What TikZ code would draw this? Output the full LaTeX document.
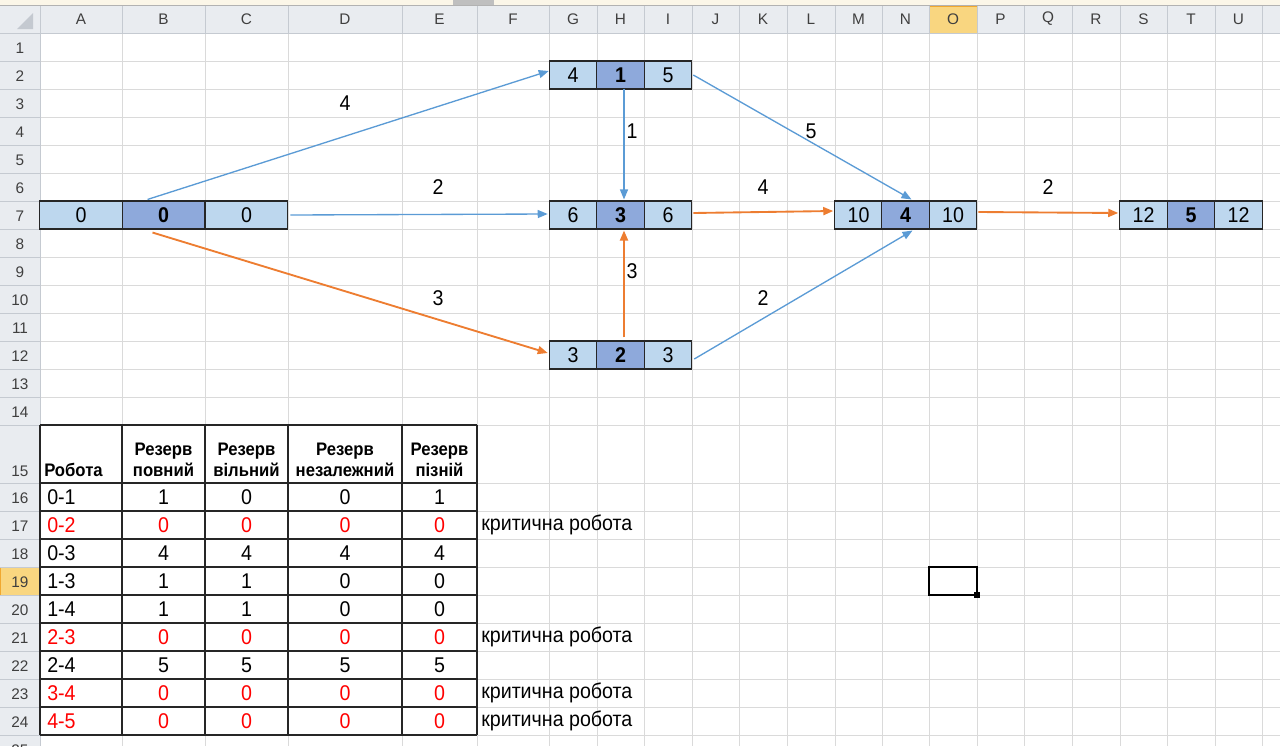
\documentclass[tikz,border=0pt]{standalone}
\usepackage{fontspec}
\setmainfont{Liberation Sans}
\newfontfamily\cellfam[FakeStretch=0.92]{Liberation Sans}
\usetikzlibrary{arrows.meta,calc}
\definecolor{side}{HTML}{BDD7EE}
\definecolor{mid}{HTML}{8EA9DB}
\definecolor{ablue}{HTML}{5B9BD5}
\definecolor{aorange}{HTML}{ED7D31}
\definecolor{gridc}{HTML}{DADADA}
\definecolor{hdr}{HTML}{E9ECF0}
\definecolor{hdrline}{HTML}{C5CAD1}
\definecolor{hdrtext}{HTML}{3F3F3F}
\definecolor{selhdr}{HTML}{F9D680}
\definecolor{selline}{HTML}{F0A830}
\definecolor{crit}{HTML}{FF0000}
\definecolor{strip}{HTML}{FBF6E8}
\definecolor{corner}{HTML}{C4C9D0}
\newcommand\cellfont{\cellfam\fontsize{16}{19}\selectfont}
\newcommand\hdrfont{\fontsize{11.5}{13}\selectfont}
\newcommand\thfont{\cellfam\fontsize{13.6}{15.5}\selectfont\bfseries}
\tikzset{
  sidecell/.style={draw=black!85, line width=0.8pt, fill=side, inner sep=0pt,
    minimum height=21pt, font=\cellfont},
  midcell/.style={sidecell, fill=mid, font=\cellfont\bfseries},
  narrow/.style={minimum width=35.6pt},
  wide/.style={minimum width=62pt},
  barrow/.style={draw=ablue, line width=1pt, -{Triangle[length=7.5pt,width=6pt]}},
  oarrow/.style={draw=aorange, line width=1.4pt, -{Triangle[length=7.5pt,width=6pt]}},
  elabel/.style={font=\cellfont, inner sep=1pt},
  tcell/.style={font=\cellfont, inner sep=0pt},
  hlabel/.style={font=\hdrfont, text=hdrtext, inner sep=0pt},
}
\begin{document}
\begin{tikzpicture}[x=0.75pt,y=-0.75pt]
\useasboundingbox (0,0) rectangle (1280,746);
\begin{scope}
\clip (0,0) rectangle (1280,746);
% top strip
\fill[strip] (0,0) rectangle (1280,5);
\fill[black!25] (453,0) rectangle (494,5);
\draw[black!30] (0,5.5) -- (1280,5.5);
% grid
\foreach \x in {122,205,288,402,477,549,597,644,692,739,787,835,882,929,977,1024,1072,1120,1167,1215,1262}
  \draw[gridc, line width=0.75pt] (\x,33) -- (\x,746);
\foreach \y in {61,89,117,145,173,201,229,257,285,313,341,369,397,425,483,511,539,567,595,623,651,679,707,735}
  \draw[gridc, line width=0.75pt] (40,\y) -- (1280,\y);
% headers
\fill[hdr] (0,6) rectangle (1280,33);
\fill[hdr] (0,33) rectangle (40,746);
\fill[selhdr] (929,6) rectangle (977,33);
\draw[selline] (929,6) rectangle (977,33);
\fill[selhdr] (0,567) rectangle (40,595);
\draw[selline] (0,567) rectangle (40,595);
\foreach \x in {40,122,205,288,402,477,549,597,644,692,739,787,835,882,929,977,1024,1072,1120,1167,1215,1262}
  \draw[hdrline] (\x,6) -- (\x,33);
\foreach \y in {61,89,117,145,173,201,229,257,285,313,341,369,397,425,483,511,539,567,595,623,651,679,707,735}
  \draw[hdrline] (0,\y) -- (40,\y);
\draw[hdrline] (0,33) -- (1280,33);
\draw[hdrline] (40,6) -- (40,746);
\fill[corner] (33,13) -- (33,29) -- (17,29) -- cycle;
\foreach \c/\x in {A/81,B/163.5,C/246.5,D/345,E/439.5,F/513,G/573,H/620.5,I/668,J/715.5,K/763,L/811,M/858.5,N/905.5,O/953,P/1000.5,Q/1048,R/1096,S/1143.5,T/1191,U/1238.5}
  \node[hlabel] (col\c) at (\x,19) {\c};
\foreach \r in {1,...,14}
  \node[hlabel] (row\r) at (20,{33+28*(\r-1)+15}) {\r};
\node[hlabel] (row15) at (20,471) {15};
\foreach \r in {16,...,25}
  \node[hlabel] (row\r) at (20,{483+28*(\r-16)+15}) {\r};
% selected cell
\draw[black, line width=2.2pt] (929,567) rectangle (977,595);
\fill[black] (974,592) rectangle (980,598);
\end{scope}

% ---------- network nodes ----------
\node[sidecell,wide] (n0l) at (81,215) {0};
\node[midcell,wide] (n0) at (163.5,215) {0};
\node[sidecell,wide] (n0r) at (246.5,215) {0};

\node[sidecell,narrow] (n1l) at (573,75) {4};
\node[midcell,narrow] (n1) at (620.5,75) {1};
\node[sidecell,narrow] (n1r) at (668,75) {5};

\node[sidecell,narrow] (n3l) at (573,215) {6};
\node[midcell,narrow] (n3) at (620.5,215) {3};
\node[sidecell,narrow] (n3r) at (668,215) {6};

\node[sidecell,narrow] (n2l) at (573,355) {3};
\node[midcell,narrow] (n2) at (620.5,355) {2};
\node[sidecell,narrow] (n2r) at (668,355) {3};

\node[sidecell,narrow] (n4l) at (858.5,215) {10};
\node[midcell,narrow] (n4) at (905.5,215) {4};
\node[sidecell,narrow] (n4r) at (953,215) {10};

\node[sidecell,narrow] (n5l) at (1143.5,215) {12};
\node[midcell,narrow] (n5) at (1191,215) {5};
\node[sidecell,narrow] (n5r) at (1238.5,215) {12};

% ---------- connectors ----------
\draw[barrow] ($(n0.north)+(-16,-1)$) -- ($(n1l.west)+(0,-4)$);
\draw[barrow] ($(n0r.east)+(2,0)$) -- ($(n3l.west)+(-1,-1)$);
\draw[barrow] ($(n1.south)+(3.5,-1)$) -- ($(n3.north)+(3.5,-1)$);
\draw[barrow] ($(n1r.east)+(1,0)$) -- ($(n4.north)+(6,-1)$);
\draw[barrow] ($(n2r.east)+(2,4)$) -- ($(n4.south)+(7,1)$);
\draw[oarrow] ($(n0.south)+(-11,3)$) -- ($(n2l.west)+(-1,-2)$);
\draw[oarrow] ($(n2.north)+(3.5,-3)$) -- ($(n3.south)+(3.5,1)$);
\draw[oarrow] ($(n3r.east)+(1,-2)$) -- ($(n4l.west)+(-1,-4)$);
\draw[oarrow] ($(n4r.east)+(1,-3)$) -- ($(n5l.west)+(-1,-2)$);

\node[elabel] (l01) at (345,103) {4};
\node[elabel] (l03) at (438,187) {2};
\node[elabel] (l13) at (632,131) {1};
\node[elabel] (l14) at (811,131) {5};
\node[elabel] (l24) at (763,298) {2};
\node[elabel] (l02) at (438,298) {3};
\node[elabel] (l23) at (632,271) {3};
\node[elabel] (l34) at (763,187) {4};
\node[elabel] (l45) at (1048,187) {2};

% ---------- table ----------
\foreach \x in {40,122,205,288,402,477}
  \draw[black!85, line width=0.8pt] (\x,425) -- (\x,735);
\foreach \y in {425,483,511,539,567,595,623,651,679,707,735}
  \draw[black!85, line width=0.8pt] (40,\y) -- (477,\y);

\node[font=\thfont, anchor=base west, inner sep=0pt] (thA) at (44,476) {Робота};
\node[font=\thfont, align=center, anchor=south, inner sep=0pt] (thB) at (163.5,477) {Резерв\\повний};
\node[font=\thfont, align=center, anchor=south, inner sep=0pt] (thC) at (246.5,477) {Резерв\\вільний};
\node[font=\thfont, align=center, anchor=south, inner sep=0pt] (thD) at (345,477) {Резерв\\незалежний};
\node[font=\thfont, align=center, anchor=south, inner sep=0pt] (thE) at (439.5,477) {Резерв\\пізній};

\foreach \r/\w/\b/\c/\d/\e/\col/\note in {
  16/0-1/1/0/0/1/black/,
  17/0-2/0/0/0/0/crit/критична робота,
  18/0-3/4/4/4/4/black/,
  19/1-3/1/1/0/0/black/,
  20/1-4/1/1/0/0/black/,
  21/2-3/0/0/0/0/crit/критична робота,
  22/2-4/5/5/5/5/black/,
  23/3-4/0/0/0/0/crit/критична робота,
  24/4-5/0/0/0/0/crit/критична робота}{
  \pgfmathsetmacro\yy{483+28*(\r-16)+14}
  \node[tcell, text=\col, anchor=west] (wA\r) at (47,\yy) {\w};
  \node[tcell, text=\col] (wB\r) at (163.5,\yy) {\b};
  \node[tcell, text=\col] (wC\r) at (246.5,\yy) {\c};
  \node[tcell, text=\col] (wD\r) at (345,\yy) {\d};
  \node[tcell, text=\col] (wE\r) at (439.5,\yy) {\e};
  \node[tcell, anchor=west] (wN\r) at (481,\yy) {\note};
}
\end{tikzpicture}
\end{document}
